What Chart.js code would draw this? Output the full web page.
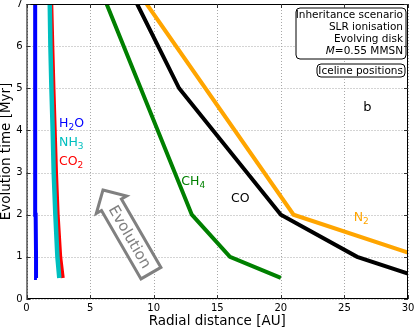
<!DOCTYPE html>
<html>
<head>
<meta charset="utf-8">
<script src="https://cdn.jsdelivr.net/npm/chart.js@4"></script>
<style>
  body { margin: 0; background: #fff; }
</style>
</head>
<body>
<canvas id="chart" width="415" height="328"></canvas>
<script>
// Iceline positions: radial distance (AU) against evolution time (Myr)
const h2oTime = [0.5, 1, 2, 3, 4, 5, 6, 7];
const h2oRadius = [0.82, 0.75, 0.72, 0.7, 0.69, 0.68, 0.67, 0.67];
const nh3Time = [0.5, 1, 2, 3, 4, 5, 6, 7];
const nh3Radius = [2.58, 2.43, 2.27, 2.14, 2.06, 1.96, 1.88, 1.83];
const co2Time = [0.5, 1, 2, 3, 4, 5, 6, 7];
const co2Radius = [2.85, 2.65, 2.45, 2.32, 2.22, 2.12, 2.03, 1.95];
const ch4Time = [0.5, 1, 2, 7];
const ch4Radius = [20, 16, 13, 6.3];
const coTime = [0.6, 1, 2, 5, 7];
const coRadius = [30, 26, 20, 12, 8.7];
const n2Time = [1.1, 2, 7];
const n2Radius = [30, 21, 9.45];

const xRange = [0, 30];
const yRange = [0, 7];

const infoLines = ["Inheritance scenario", "SLR ionisation", "Evolving disk", "=0.55 MMSN"];

// label text, "_" marks the subscript part
const labels = [
  { text: "H_2O", x: 2.56, y: 4.16, color: "#0000ff" },
  { text: "NH_3", x: 2.56, y: 3.71, color: "#00bfbf" },
  { text: "CO_2", x: 2.56, y: 3.25, color: "#ff0000" },
  { text: "CH_4", x: 12.17, y: 2.79, color: "#008000" },
  { text: "CO", x: 16.08, y: 2.39, color: "#000000" },
  { text: "N_2", x: 25.73, y: 1.92, color: "#ffa500" },
];

const FONT = '"DejaVu Sans", "Liberation Sans", sans-serif';

function pts(xs, ys) {
  return xs.map((x, i) => ({ x: x, y: ys[i] }));
}

function line(data, color, width, order) {
  return {
    data: data,
    borderColor: color,
    borderWidth: width,
    pointRadius: 0,
    showLine: true,
    fill: false,
    tension: 0,
    order: order,
  };
}

function drawChem(ctx, text, x, y, color) {
  ctx.fillStyle = color;
  ctx.textAlign = "left";
  ctx.textBaseline = "middle";
  const parts = text.split("_");
  parts.forEach((p, i) => {
    if (i > 0) {
      // first char is the subscript
      ctx.font = "9px " + FONT;
      ctx.fillText(p[0], x, y + 4);
      x += ctx.measureText(p[0]).width;
      p = p.slice(1);
    }
    ctx.font = "12.5px " + FONT;
    ctx.fillText(p, x, y);
    x += ctx.measureText(p).width;
  });
}

function roundBox(ctx, x, y, w, h, r) {
  ctx.beginPath();
  ctx.moveTo(x + r, y);
  ctx.lineTo(x + w - r, y);
  ctx.quadraticCurveTo(x + w, y, x + w, y + r);
  ctx.lineTo(x + w, y + h - r);
  ctx.quadraticCurveTo(x + w, y + h, x + w - r, y + h);
  ctx.lineTo(x + r, y + h);
  ctx.quadraticCurveTo(x, y + h, x, y + h - r);
  ctx.lineTo(x, y + r);
  ctx.quadraticCurveTo(x, y, x + r, y);
  ctx.closePath();
  ctx.fillStyle = "#fff";
  ctx.fill();
  ctx.strokeStyle = "#000";
  ctx.lineWidth = 1;
  ctx.stroke();
}

// dotted grid under the lines
const dottedGrid = {
  id: "dottedGrid",
  beforeDatasetsDraw(chart) {
    const ctx = chart.ctx;
    const a = chart.chartArea;
    const xs = chart.scales.x;
    const ys = chart.scales.y;
    ctx.save();
    ctx.strokeStyle = "#a8a8a8";
    ctx.lineWidth = 1;
    ctx.setLineDash([1, 2]);
    ctx.beginPath();
    xs.ticks.forEach(t => {
      const px = Math.round(xs.getPixelForValue(t.value)) + 0.5;
      ctx.moveTo(px, a.top);
      ctx.lineTo(px, a.bottom);
    });
    ys.ticks.forEach(t => {
      const py = Math.round(ys.getPixelForValue(t.value)) + 0.5;
      ctx.moveTo(a.left, py);
      ctx.lineTo(a.right, py);
    });
    ctx.stroke();
    ctx.restore();
  },
};

const extras = {
  id: "extras",
  afterDatasetsDraw(chart) {
    const ctx = chart.ctx;
    const a = chart.chartArea;
    const xs = chart.scales.x;
    const ys = chart.scales.y;
    ctx.save();

    // text labels next to the icelines
    labels.forEach(l => drawChem(ctx, l.text, xs.getPixelForValue(l.x), ys.getPixelForValue(l.y), l.color));

    ctx.fillStyle = "#000";
    ctx.font = "13px " + FONT;
    ctx.textAlign = "center";
    ctx.textBaseline = "middle";
    ctx.fillText("b", xs.getPixelForValue(26.8), ys.getPixelForValue(4.55));

    // "Evolution" arrow
    ctx.save();
    ctx.translate(xs.getPixelForValue(7.9), ys.getPixelForValue(1.6));
    ctx.rotate(Math.PI / 3);
    ctx.beginPath();
    ctx.moveTo(-48, 0);
    ctx.lineTo(-31, -17.5);
    ctx.lineTo(-31, -11.5);
    ctx.lineTo(48, -11.5);
    ctx.lineTo(48, 11.5);
    ctx.lineTo(-31, 11.5);
    ctx.lineTo(-31, 17.5);
    ctx.closePath();
    ctx.fillStyle = "#fff";
    ctx.fill();
    ctx.strokeStyle = "#808080";
    ctx.lineWidth = 3;
    ctx.lineJoin = "miter";
    ctx.stroke();
    ctx.fillStyle = "#808080";
    ctx.font = "15px " + FONT;
    ctx.textAlign = "center";
    ctx.textBaseline = "middle";
    ctx.fillText("Evolution", 6, 1);
    ctx.restore();

    // info boxes, top right
    const bx = a.right - 112;
    roundBox(ctx, bx, a.top + 4, 110, 51, 4);
    ctx.font = "10.5px " + FONT;
    ctx.fillStyle = "#000";
    ctx.textAlign = "right";
    ctx.textBaseline = "middle";
    infoLines.forEach((t, i) => ctx.fillText(t, a.right - 5, a.top + 11.5 + i * 12));
    const w = ctx.measureText(infoLines[3]).width;
    ctx.font = "italic 10.5px " + FONT;
    ctx.fillText("M", a.right - 5 - w, a.top + 47.5);
    ctx.font = "10.5px " + FONT;
    roundBox(ctx, a.right - 91, a.top + 60, 88, 13, 4);
    ctx.fillStyle = "#000";
    ctx.fillText("Iceline positions", a.right - 5, a.top + 67);

    // frame and inward ticks
    ctx.strokeStyle = "#000";
    ctx.lineWidth = 1;
    ctx.strokeRect(a.left + 0.5, a.top + 0.5, a.right - a.left - 1, a.bottom - a.top - 1);
    ctx.strokeStyle = "#333";
    ctx.beginPath();
    xs.ticks.forEach(t => {
      const px = Math.round(xs.getPixelForValue(t.value)) + 0.5;
      ctx.moveTo(px, a.bottom); ctx.lineTo(px, a.bottom - 4);
      ctx.moveTo(px, a.top); ctx.lineTo(px, a.top + 4);
    });
    ys.ticks.forEach(t => {
      const py = Math.round(ys.getPixelForValue(t.value)) + 0.5;
      ctx.moveTo(a.left, py); ctx.lineTo(a.left + 4, py);
      ctx.moveTo(a.right, py); ctx.lineTo(a.right - 4, py);
    });
    ctx.stroke();
    ctx.restore();
  },
};

new Chart(document.getElementById("chart"), {
  type: "scatter",
  data: {
    datasets: [
      line(pts(h2oRadius, h2oTime), "#0000ff", 4, 1),
      line(pts(nh3Radius, nh3Time), "#00bfbf", 4.5, 2),
      line(pts(co2Radius, co2Time), "#ff0000", 4, 3),
      line(pts(ch4Radius, ch4Time), "#008000", 4, 4),
      line(pts(n2Radius, n2Time), "#ffa500", 4, 6),
      line(pts(coRadius, coTime), "#000000", 4, 5),
    ],
  },
  options: {
    responsive: false,
    animation: false,
    layout: { padding: { top: 4, right: 7, left: 0, bottom: 0 } },
    plugins: { legend: { display: false }, tooltip: { enabled: false } },
    scales: {
      x: {
        type: "linear",
        min: xRange[0],
        max: xRange[1],
        afterFit: s => { s.height = 29; s.paddingLeft = 0; s.paddingRight = 0; },
        ticks: { stepSize: 5, color: "#000", padding: 3, maxRotation: 0, font: { family: FONT, size: 10 } },
        grid: { display: false, drawTicks: false },
        border: { display: false },
        title: {
          display: true,
          text: "Radial distance [AU]",
          color: "#000",
          padding: 0,
          font: { family: FONT, size: 13.5, lineHeight: 1 },
        },
      },
      y: {
        type: "linear",
        min: yRange[0],
        max: yRange[1],
        afterFit: s => { s.width = 26.5; s.paddingTop = 0; s.paddingBottom = 0; },
        ticks: { stepSize: 1, color: "#000", padding: 4, font: { family: FONT, size: 10 } },
        grid: { display: false, drawTicks: false },
        border: { display: false },
        title: {
          display: true,
          text: "Evolution time [Myr]",
          color: "#000",
          padding: 0,
          font: { family: FONT, size: 13.5, lineHeight: 1 },
        },
      },
    },
  },
  plugins: [dottedGrid, extras],
});
</script>
</body>
</html>
